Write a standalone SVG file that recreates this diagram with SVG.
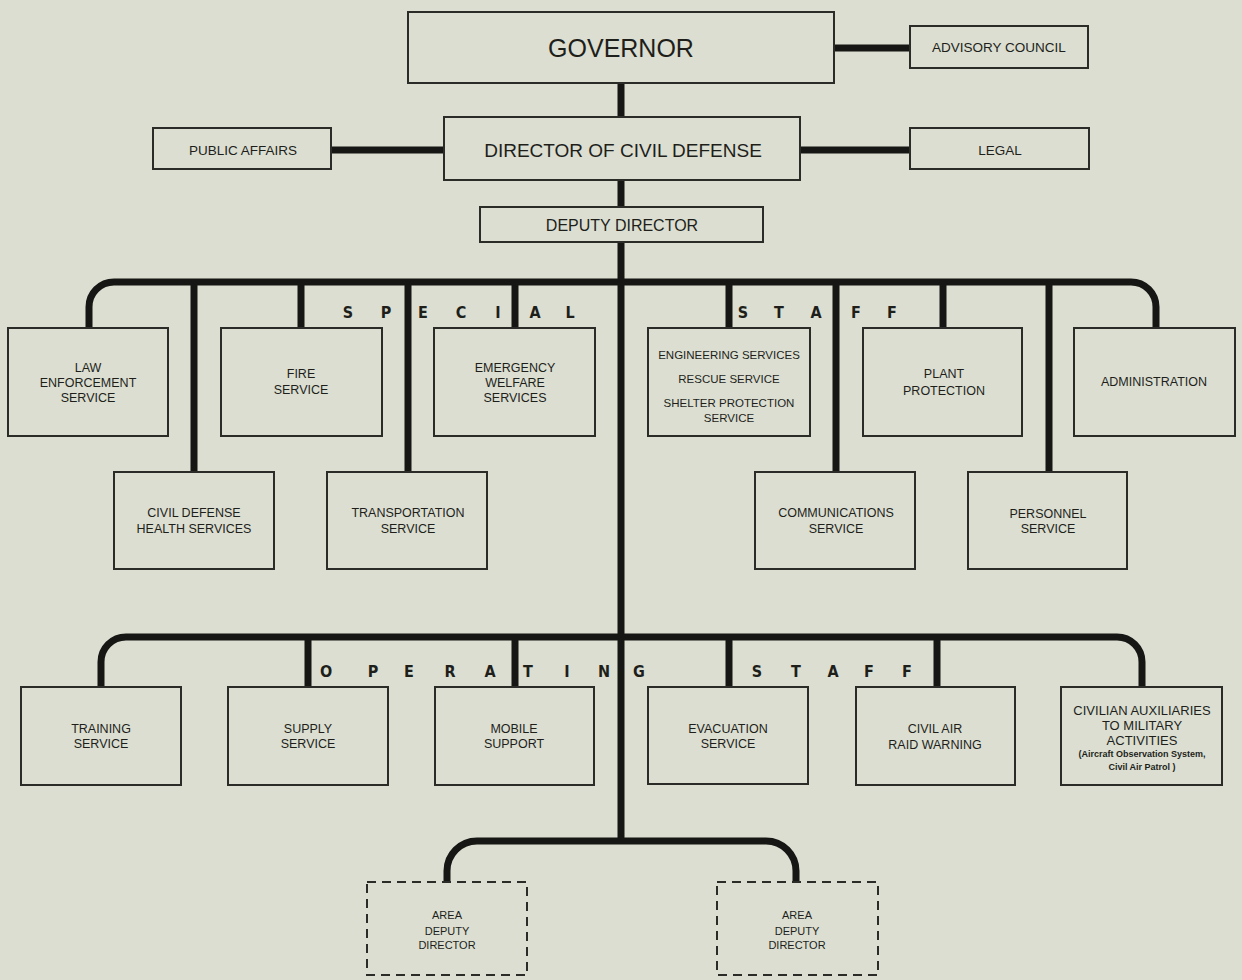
<svg xmlns="http://www.w3.org/2000/svg" width="1242" height="980" viewBox="0 0 1242 980">
<style>
.bg{fill:#dbded1}
.box{fill:none;stroke:#2b2b27;stroke-width:2}
.dash{fill:none;stroke:#2b2b27;stroke-width:2;stroke-dasharray:9 6}
.con{fill:none;stroke:#161614;stroke-width:7}
text{font-family:"Liberation Sans",Arial,sans-serif;fill:#1e1e1b;text-anchor:middle}
.lb{font-size:12.5px}
.sm{font-size:11px}
.tiny{font-size:9px;font-weight:bold}
.big{font-size:25px}
.mid{font-size:19px}
.dep{font-size:16px}
.side{font-size:13.5px}
.sp{font-family:"DejaVu Sans Condensed","Liberation Sans Narrow","Liberation Sans",sans-serif;font-size:16px;font-weight:bold}
</style>
<rect class="bg" x="0" y="0" width="1242" height="980"/>
<g id="connectors">
<path class="con" d="M621 83V117M621 180V207M621 242V841"/>
<path class="con" d="M834 48H910M331 150H444M800 150H910"/>
<path class="con" d="M89 328V307A25 25 0 0 1 114 282H1131A25 25 0 0 1 1156 307V328"/>
<path class="con" d="M194 282V472M301 282V328M408 282V472M515 282V328M729 282V328M836 282V472M943 282V328M1049 282V472"/>
<path class="con" d="M101 687V662A25 25 0 0 1 126 637H1117A25 25 0 0 1 1142 662V687"/>
<path class="con" d="M308 637V687M515 637V687M729 637V687M937 637V687"/>
<path class="con" d="M447 882V871A30 30 0 0 1 477 841H766A30 30 0 0 1 796 871V882"/>
</g>
<g id="special-label">
<text class="sp" x="348" y="318">S</text><text class="sp" x="386" y="318">P</text><text class="sp" x="423" y="318">E</text><text class="sp" x="461" y="318">C</text><text class="sp" x="498" y="318">I</text><text class="sp" x="535" y="318">A</text><text class="sp" x="570" y="318">L</text>
<text class="sp" x="743" y="318">S</text><text class="sp" x="779" y="318">T</text><text class="sp" x="816" y="318">A</text><text class="sp" x="856" y="318">F</text><text class="sp" x="892" y="318">F</text>
</g>
<g id="operating-label">
<text class="sp" x="326" y="677">O</text><text class="sp" x="373" y="677">P</text><text class="sp" x="409" y="677">E</text><text class="sp" x="450" y="677">R</text><text class="sp" x="490" y="677">A</text><text class="sp" x="528" y="677">T</text><text class="sp" x="567" y="677">I</text><text class="sp" x="604" y="677">N</text><text class="sp" x="639" y="677">G</text>
<text class="sp" x="757" y="677">S</text><text class="sp" x="796" y="677">T</text><text class="sp" x="833" y="677">A</text><text class="sp" x="869" y="677">F</text><text class="sp" x="907" y="677">F</text>
</g>
<g id="governor"><rect class="box" x="408" y="12" width="426" height="71"/><text class="big" x="621" y="57">GOVERNOR</text></g>
<g id="advisory-council"><rect class="box" x="910" y="26" width="178" height="42"/><text class="side" x="999" y="52">ADVISORY COUNCIL</text></g>
<g id="public-affairs"><rect class="box" x="153" y="128" width="178" height="41"/><text class="side" x="243" y="155">PUBLIC AFFAIRS</text></g>
<g id="director"><rect class="box" x="444" y="117" width="356" height="63"/><text class="mid" x="623" y="157">DIRECTOR OF CIVIL DEFENSE</text></g>
<g id="legal"><rect class="box" x="910" y="128" width="179" height="41"/><text class="side" x="1000" y="155">LEGAL</text></g>
<g id="deputy-director"><rect class="box" x="480" y="207" width="283" height="35"/><text class="dep" x="622" y="231">DEPUTY DIRECTOR</text></g>
<g id="law-enforcement"><rect class="box" x="8" y="328" width="160" height="108"/><text class="lb" x="88" y="371.5">LAW</text><text class="lb" x="88" y="386.5">ENFORCEMENT</text><text class="lb" x="88" y="401.5">SERVICE</text></g>
<g id="fire-service"><rect class="box" x="221" y="328" width="161" height="108"/><text class="lb" x="301" y="377.5">FIRE</text><text class="lb" x="301" y="393.5">SERVICE</text></g>
<g id="emergency-welfare"><rect class="box" x="434" y="328" width="161" height="108"/><text class="lb" x="515" y="371.5">EMERGENCY</text><text class="lb" x="515" y="386.5">WELFARE</text><text class="lb" x="515" y="401.5">SERVICES</text></g>
<g id="engineering"><rect class="box" x="648" y="328" width="162" height="108"/><text class="lb" x="729" y="358.5" style="font-size:11.5px">ENGINEERING SERVICES</text><text class="lb" x="729" y="382.5" style="font-size:11.5px">RESCUE SERVICE</text><text class="lb" x="729" y="406.5" style="font-size:11.5px">SHELTER PROTECTION</text><text class="lb" x="729" y="421.5" style="font-size:11.5px">SERVICE</text></g>
<g id="plant-protection"><rect class="box" x="863" y="328" width="159" height="108"/><text class="lb" x="944" y="377.5">PLANT</text><text class="lb" x="944" y="394.5">PROTECTION</text></g>
<g id="administration"><rect class="box" x="1074" y="328" width="161" height="108"/><text class="lb" x="1154" y="385.5">ADMINISTRATION</text></g>
<g id="cd-health"><rect class="box" x="114" y="472" width="160" height="97"/><text class="lb" x="194" y="516.5">CIVIL DEFENSE</text><text class="lb" x="194" y="532.5">HEALTH SERVICES</text></g>
<g id="transportation"><rect class="box" x="327" y="472" width="160" height="97"/><text class="lb" x="408" y="516.5">TRANSPORTATION</text><text class="lb" x="408" y="532.5">SERVICE</text></g>
<g id="communications"><rect class="box" x="755" y="472" width="160" height="97"/><text class="lb" x="836" y="516.5">COMMUNICATIONS</text><text class="lb" x="836" y="532.5">SERVICE</text></g>
<g id="personnel"><rect class="box" x="968" y="472" width="159" height="97"/><text class="lb" x="1048" y="517.5">PERSONNEL</text><text class="lb" x="1048" y="532.5">SERVICE</text></g>
<g id="training"><rect class="box" x="21" y="687" width="160" height="98"/><text class="lb" x="101" y="732.5">TRAINING</text><text class="lb" x="101" y="747.5">SERVICE</text></g>
<g id="supply"><rect class="box" x="228" y="687" width="160" height="98"/><text class="lb" x="308" y="732.5">SUPPLY</text><text class="lb" x="308" y="747.5">SERVICE</text></g>
<g id="mobile-support"><rect class="box" x="435" y="687" width="159" height="98"/><text class="lb" x="514" y="732.5">MOBILE</text><text class="lb" x="514" y="747.5">SUPPORT</text></g>
<g id="evacuation"><rect class="box" x="648" y="687" width="160" height="97"/><text class="lb" x="728" y="732.5">EVACUATION</text><text class="lb" x="728" y="747.5">SERVICE</text></g>
<g id="civil-air-raid"><rect class="box" x="856" y="687" width="159" height="98"/><text class="lb" x="935" y="732.5">CIVIL AIR</text><text class="lb" x="935" y="748.5">RAID WARNING</text></g>
<g id="civilian-auxiliaries"><rect class="box" x="1061" y="687" width="161" height="98"/><text class="lb" x="1142" y="714.5" style="font-size:13px">CIVILIAN AUXILIARIES</text><text class="lb" x="1142" y="729.5" style="font-size:13px">TO MILITARY</text><text class="lb" x="1142" y="744.5" style="font-size:13px">ACTIVITIES</text><text class="tiny" x="1142" y="756.5">(Aircraft Observation System,</text><text class="tiny" x="1142" y="769.5">Civil Air Patrol )</text></g>
<g id="area-deputy-1"><rect class="dash" x="367" y="882" width="160" height="93"/><text class="sm" x="447" y="919">AREA</text><text class="sm" x="447" y="935">DEPUTY</text><text class="sm" x="447" y="949">DIRECTOR</text></g>
<g id="area-deputy-2"><rect class="dash" x="717" y="882" width="161" height="93"/><text class="sm" x="797" y="919">AREA</text><text class="sm" x="797" y="935">DEPUTY</text><text class="sm" x="797" y="949">DIRECTOR</text></g>
</svg>
